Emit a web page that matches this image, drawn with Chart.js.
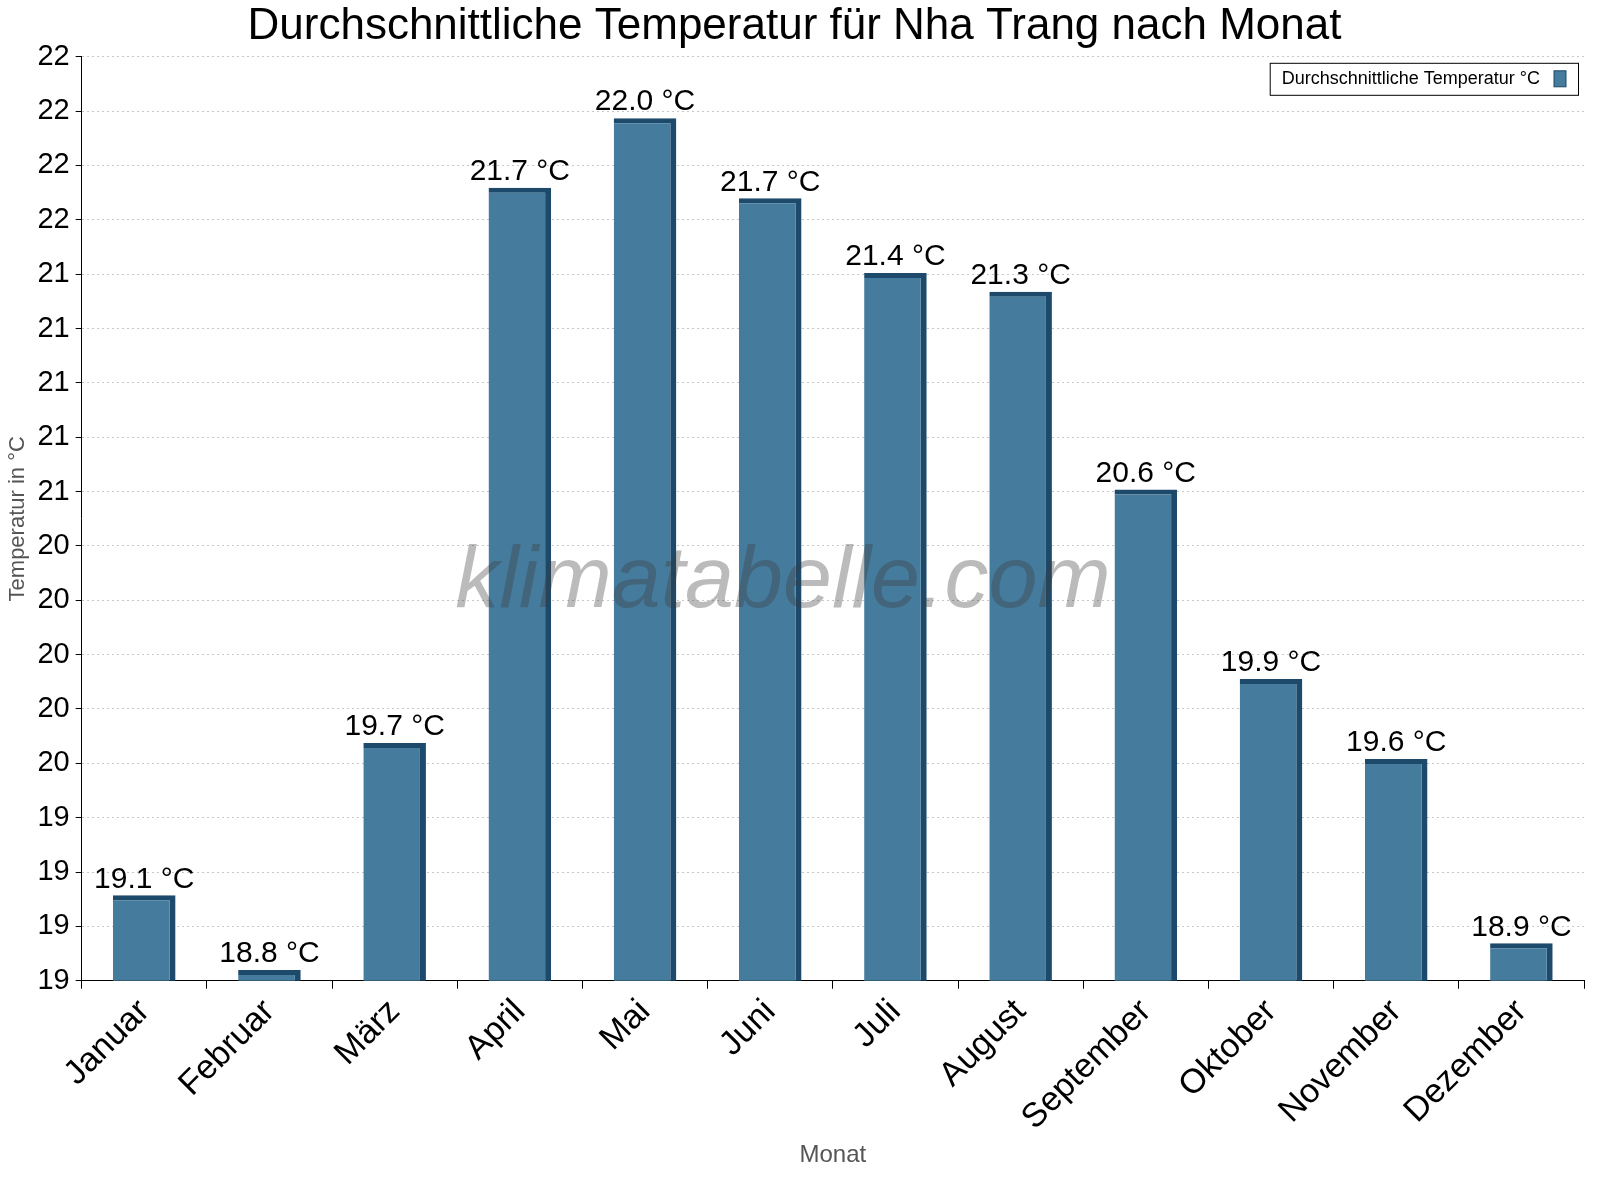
<!DOCTYPE html>
<html><head><meta charset="utf-8">
<script src="https://cdn.jsdelivr.net/npm/chart.js@4/dist/chart.umd.min.js"></script>
<style>html,body{margin:0;padding:0;background:#fff}#w{width:1600px;height:1200px}</style>
</head><body><div id="w"><canvas id="c"></canvas></div>
<script>
const months = ["Januar","Februar","März","April","Mai","Juni","Juli","August","September","Oktober","November","Dezember"];
const temps = [19.09,18.81,19.66,21.74,22.0,21.7,21.42,21.35,20.61,19.9,19.6,18.91];
const tempLabels = ["19.1","18.8","19.7","21.7","22.0","21.7","21.4","21.3","20.6","19.9","19.6","18.9"];
const yTickLabels = ["19","19","19","19","20","20","20","20","20","21","21","21","21","21","22","22","22","22"];
const yMin = 18.77, yMax = 22.23;
const FONT = "Liberation Sans, Arial, sans-serif";

const deco = {
  id:'deco',
  afterDatasetsDraw(chart){
    const {ctx,chartArea:a}=chart;
    const meta=chart.getDatasetMeta(0);
    ctx.save();
    ctx.font = "italic 88px "+FONT;
    ctx.fillStyle="rgba(60,60,60,0.35)";
    ctx.textAlign="center";ctx.textBaseline="middle";
    ctx.fillText("klimatabelle.com",783,583);
    ctx.font="30px "+FONT;ctx.fillStyle="#000";ctx.textAlign="center";ctx.textBaseline="bottom";
    meta.data.forEach((b,i)=>{ctx.fillText(tempLabels[i]+" °C",b.x,b.y-1);});
    const txt="Durchschnittliche Temperatur °C";
    ctx.font="18px "+FONT;
    const w=ctx.measureText(txt).width;
    const x1=a.right-6, x0=x1-(w+50), y0=a.top+6, h=32;
    ctx.fillStyle="#fff";ctx.fillRect(x0,y0,x1-x0,h);
    ctx.strokeStyle="#000";ctx.lineWidth=1;ctx.strokeRect(x0+0.5,y0+0.5,x1-x0,h);
    ctx.fillStyle="#000";ctx.textAlign="left";ctx.textBaseline="middle";
    ctx.fillText(txt,x0+12,y0+h/2);
    ctx.fillStyle="#457b9d";ctx.fillRect(x1-24,y0+8,12,16);
    ctx.strokeStyle="#1d4a6a";ctx.strokeRect(x1-24,y0+8,12,16);
    ctx.restore();
  }
};

new Chart(document.getElementById('c'),{
  type:'bar',
  data:{labels:months,datasets:[{data:temps,backgroundColor:'#457b9d',borderColor:'#1d4a6a',
    borderWidth:{top:5,right:6,left:0,bottom:0},borderSkipped:false,barPercentage:0.5,categoryPercentage:1}]},
  options:{responsive:true,maintainAspectRatio:false,animation:false,
    layout:{padding:{left:5,right:16,top:0,bottom:30}},
    plugins:{legend:{display:false},tooltip:{enabled:false},
      title:{display:true,text:"Durchschnittliche Temperatur für Nha Trang nach Monat",font:{size:44,family:FONT,weight:'normal'},color:'#000',padding:{top:0,bottom:4}}},
    scales:{
      y:{min:yMin,max:yMax,
        afterBuildTicks(s){s.ticks=yTickLabels.map((_,i)=>({value:yMin+(yMax-yMin)*i/(yTickLabels.length-1)}));},
        ticks:{callback:(v,i)=>yTickLabels[i],font:{size:29,family:FONT},color:'#000',padding:6},
        grid:{color:'#c8c8c8',tickColor:'#000',tickLength:6},
        border:{color:'#000',dash:[2,3]},
        title:{display:true,text:"Temperatur in °C",font:{size:22,family:FONT},color:'#555',padding:0}},
      x:{ticks:{font:{size:34,family:FONT},color:'#000',maxRotation:45,minRotation:45},
        grid:{display:true,drawOnChartArea:false,tickColor:'#000',tickLength:8,offset:true},
        border:{color:'#000'},
        title:{display:true,text:"Monat",font:{size:24,family:FONT},color:'#555',padding:0}}
    }},
  plugins:[deco]
});
</script></body></html>
